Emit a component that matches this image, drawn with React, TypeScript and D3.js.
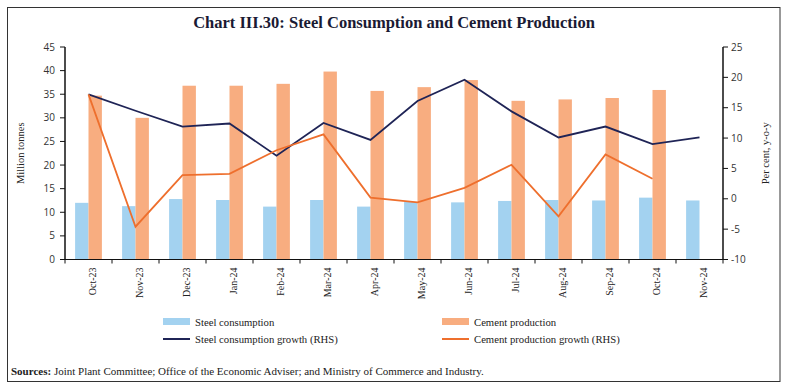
import * as d3 from "d3";
import React from "react";

// months on the x axis
const months = [
  "Oct-23", "Nov-23", "Dec-23", "Jan-24", "Feb-24", "Mar-24", "Apr-24",
  "May-24", "Jun-24", "Jul-24", "Aug-24", "Sep-24", "Oct-24", "Nov-24",
];

// million tonnes (LHS)
const steelConsumption = [12.0, 11.3, 12.8, 12.6, 11.2, 12.6, 11.2, 12.2, 12.1, 12.4, 12.6, 12.5, 13.1, 12.5];
const cementProduction = [34.7, 30.0, 36.8, 36.8, 37.2, 39.8, 35.7, 36.5, 38.0, 33.6, 33.9, 34.2, 35.9, null];

// per cent y-o-y (RHS)
const steelGrowth = [17.2, 14.5, 11.9, 12.4, 7.1, 12.5, 9.7, 16.1, 19.6, 14.4, 10.1, 11.9, 9.0, 10.1];
const cementGrowth = [17.2, -4.6, 3.9, 4.1, 8.0, 10.6, 0.2, -0.6, 1.8, 5.6, -2.9, 7.3, 3.3, null];

const leftTicks = [0, 5, 10, 15, 20, 25, 30, 35, 40, 45];
const rightTicks = [-10, -5, 0, 5, 10, 15, 20, 25];

const W = 788;
const H = 387;
const x0 = 65;
const x1 = 723;
const yTop = 47;
const yBot = 259.5;

const BLUE = "#a3d2f0";
const PEACH = "#f8ad80";
const NAVY = "#1f2456";
const ORANGE = "#ee6f2d";

const serif = "'Liberation Serif', 'Times New Roman', serif";
const sans = "'Open Sans', 'DejaVu Sans', sans-serif";

export default function App() {
  const x = d3.scaleBand<string>().domain(months).range([x0, x1]);
  const yL = d3.scaleLinear().domain([0, 45]).range([yBot, yTop]);
  const yR = d3.scaleLinear().domain([-10, 25]).range([yBot, yTop]);
  const bw = x.bandwidth() * 0.285;

  const line = d3
    .line<number | null>()
    .defined((d) => d !== null)
    .x((_, i) => (x(months[i]) as number) + x.bandwidth() / 2)
    .y((d) => yR(d as number));

  return (
    <svg width={W} height={H} style={{ position: "absolute", left: 0, top: 0 }}>
      <rect x={7.5} y={7.5} width={772.5} height={374} fill="white" stroke="#333" strokeWidth={1} />
      <text x={394} y={27.5} textAnchor="middle" fontFamily={serif} fontWeight="bold" fontSize={16.5} fill="#1a1a33">
        Chart III.30: Steel Consumption and Cement Production
      </text>

      {/* bars */}
      {months.map((m, i) => {
        const cx = (x(m) as number) + x.bandwidth() / 2;
        return (
          <g key={m}>
            <rect x={cx - bw} y={yL(steelConsumption[i])} width={bw} height={yBot - yL(steelConsumption[i])} fill={BLUE} />
            {cementProduction[i] !== null && (
              <rect x={cx} y={yL(cementProduction[i] as number)} width={bw} height={yBot - yL(cementProduction[i] as number)} fill={PEACH} />
            )}
          </g>
        );
      })}

      {/* lines */}
      <path d={line(steelGrowth) as string} fill="none" stroke={NAVY} strokeWidth={1.8} />
      <path d={line(cementGrowth) as string} fill="none" stroke={ORANGE} strokeWidth={1.8} />

      {/* left axis */}
      <line x1={x0} x2={x0} y1={yTop} y2={yBot} stroke="#111" strokeWidth={1.5} />
      {leftTicks.map((t) => (
        <g key={"l" + t}>
          <line x1={x0 - 5} x2={x0} y1={yL(t)} y2={yL(t)} stroke="#111" />
          <text x={x0 - 10} y={yL(t)} dy="0.35em" textAnchor="end" fontFamily={sans} fontSize={10} fill="#333">
            {t}
          </text>
        </g>
      ))}
      <text transform={`translate(24,${(yTop + yBot) / 2}) rotate(-90)`} textAnchor="middle" fontFamily={serif} fontSize={10.5} fill="#222">
        Million tonnes
      </text>

      {/* right axis */}
      <line x1={x1} x2={x1} y1={yTop} y2={yBot} stroke="#111" strokeWidth={1.5} />
      {rightTicks.map((t) => (
        <g key={"r" + t}>
          <line x1={x1} x2={x1 + 5} y1={yR(t)} y2={yR(t)} stroke="#111" />
          <text x={x1 + 8} y={yR(t)} dy="0.35em" textAnchor="start" fontFamily={sans} fontSize={10} fill="#333">
            {t}
          </text>
        </g>
      ))}
      <text transform={`translate(769,${(yTop + yBot) / 2}) rotate(-90)`} textAnchor="middle" fontFamily={serif} fontSize={10.5} fill="#222">
        Per cent, y-o-y
      </text>

      {/* x axis */}
      <line x1={x0} x2={x1} y1={yBot} y2={yBot} stroke="#111" strokeWidth={1.2} />
      {months.map((m) => (
        <line key={"t" + m} x1={x(m) as number} x2={x(m) as number} y1={yBot} y2={yBot + 4} stroke="#111" />
      ))}
      <line x1={x1} x2={x1} y1={yBot} y2={yBot + 4} stroke="#111" />
      {months.map((m) => {
        const cx = (x(m) as number) + x.bandwidth() / 2 + 4;
        return (
          <text key={"xl" + m} transform={`translate(${cx},${yBot + 8}) rotate(-90)`} dy="0.35em" textAnchor="end" fontFamily={serif} fontSize={10} fill="#222">
            {m}
          </text>
        );
      })}

      {/* legend */}
      <rect x={163} y={318} width={27} height={7} fill={BLUE} />
      <text x={195} y={322} dy="0.35em" fontFamily={serif} fontSize={10.7} fill="#222">Steel consumption</text>
      <rect x={442} y={318} width={27} height={7} fill={PEACH} />
      <text x={474} y={322} dy="0.35em" fontFamily={serif} fontSize={10.7} fill="#222">Cement production</text>
      <line x1={163} x2={190} y1={339} y2={339} stroke={NAVY} strokeWidth={2} />
      <text x={195} y={339} dy="0.35em" fontFamily={serif} fontSize={10.7} fill="#222">Steel consumption growth (RHS)</text>
      <line x1={442} x2={469} y1={339} y2={339} stroke={ORANGE} strokeWidth={2} />
      <text x={474} y={339} dy="0.35em" fontFamily={serif} fontSize={10.7} fill="#222">Cement production growth (RHS)</text>

      <text x={11} y={371} dy="0.35em" fontFamily={serif} fontSize={11} fill="#222">
        <tspan fontWeight="bold">Sources:</tspan> Joint Plant Committee; Office of the Economic Adviser; and Ministry of Commerce and Industry.
      </text>
    </svg>
  );
}
